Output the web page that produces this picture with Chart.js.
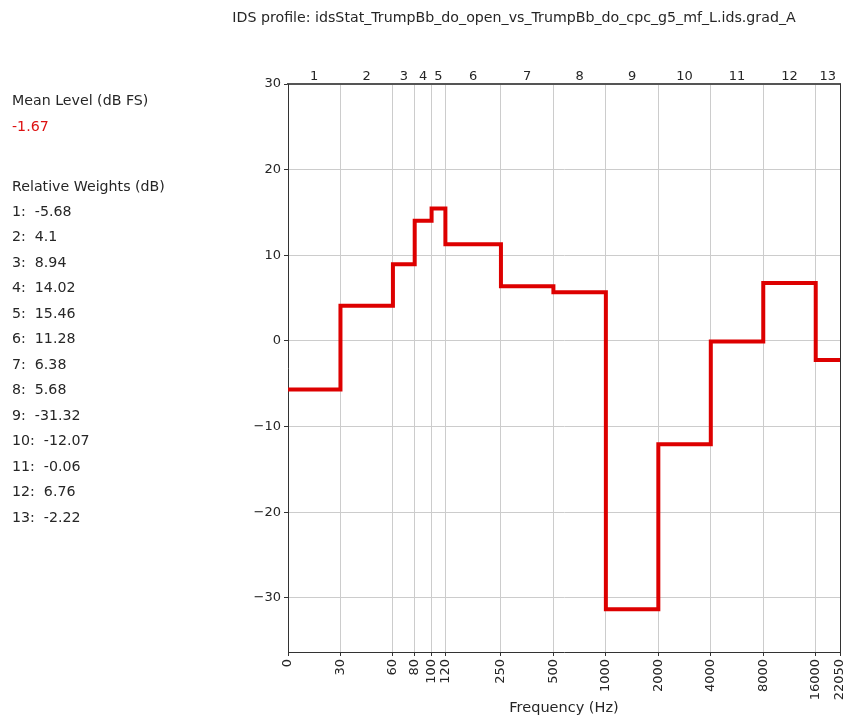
<!DOCTYPE html>
<html>
<head>
<meta charset="utf-8">
<script src="https://cdn.jsdelivr.net/npm/chart.js@4"></script>
<style>
  html, body { margin: 0; padding: 0; background: #fff; }
  #wrap { width: 848px; height: 720px; }
</style>
</head>
<body>
<div id="wrap"><canvas id="myChart" width="848" height="720"></canvas></div>
<script>
// band edges (Hz) and band weights (dB)
let bandEdges = [0, 30, 60, 80, 100, 120, 250, 500, 1000, 2000, 4000, 8000, 16000, 22050];
let edgeLabels = ["0", "30", "60", "80", "100", "120", "250", "500", "1000", "2000", "4000", "8000", "16000", "22050"];
let bandNames = ["1", "2", "3", "4", "5", "6", "7", "8", "9", "10", "11", "12", "13"];
let weights = [-5.68, 4.1, 8.94, 14.02, 15.46, 11.28, 6.38, 5.68, -31.32, -12.07, -0.06, 6.76, -2.22];
let meanLevel = -1.67;
let yTicks = [-30, -20, -10, 0, 10, 20, 30];

let chartTitle = "IDS profile: idsStat_TrumpBb_do_open_vs_TrumpBb_do_cpc_g5_mf_L.ids.grad_A";
let font = "DejaVu Sans";
let textColor = "#262626";

// octave axis: 0 Hz is drawn one octave below 30 Hz
function toOct(f) {
    return f === 0 ? Math.log2(15) : Math.log2(f);
}

let points = [];
for (let i = 0; i < weights.length; i++) {
    points.push({ x: toOct(bandEdges[i]), y: weights[i] });
}
points.push({ x: toOct(bandEdges[bandEdges.length - 1]), y: weights[weights.length - 1] });

let bandCenters = [];
for (let i = 0; i < bandNames.length; i++) {
    bandCenters.push((toOct(bandEdges[i]) + toOct(bandEdges[i + 1])) / 2);
}

function fmt(v) {
    return v < 0 ? "\u2212" + Math.abs(v) : String(v);
}

const extras = {
    id: "extras",
    afterDraw(chart) {
        const ctx = chart.ctx;
        const a = chart.chartArea;
        ctx.save();
        // right spine
        ctx.strokeStyle = "#333";
        ctx.lineWidth = 1;
        ctx.beginPath();
        ctx.moveTo(a.right + 0.5, a.top);
        ctx.lineTo(a.right + 0.5, a.bottom);
        ctx.stroke();

        ctx.fillStyle = textColor;
        ctx.textBaseline = "middle";
        ctx.textAlign = "center";
        ctx.font = "14.2px '" + font + "'";
        ctx.fillText(chartTitle, 514, 18);
        ctx.font = "14.5px '" + font + "'";
        ctx.fillText("Frequency (Hz)", 564, 708);

        ctx.textAlign = "left";
        ctx.font = "14.2px '" + font + "'";
        ctx.fillText("Mean Level (dB FS)", 12, 101);
        ctx.fillStyle = "#dd1111";
        ctx.fillText(String(meanLevel), 12, 127);
        ctx.fillStyle = textColor;
        ctx.fillText("Relative Weights (dB)", 12, 187);
        for (let i = 0; i < weights.length; i++) {
            ctx.fillText(bandNames[i] + ":  " + weights[i], 12, 212 + i * 25.5);
        }
        ctx.restore();
    }
};

new Chart("myChart", {
    type: "line",
    data: {
        datasets: [{
            data: points,
            stepped: "before",
            borderColor: "#dd0000",
            borderWidth: 4,
            pointRadius: 0,
            fill: false
        }]
    },
    options: {
        responsive: false,
        animation: false,
        layout: { padding: { left: 0, top: 0, right: 8, bottom: 0 } },
        plugins: {
            legend: { display: false },
            title: { display: false },
            tooltip: { enabled: false }
        },
        scales: {
            x: {
                type: "linear",
                position: "bottom",
                min: toOct(bandEdges[0]),
                max: toOct(bandEdges[bandEdges.length - 1]),
                afterBuildTicks: s => { s.ticks = bandEdges.map(f => ({ value: toOct(f) })); },
                afterFit: s => { s.height = 68; s.paddingLeft = 0; s.paddingRight = 0; },
                ticks: {
                    autoSkip: false,
                    minRotation: 90,
                    maxRotation: 90,
                    padding: 3,
                    color: textColor,
                    font: { family: font, size: 13 },
                    callback: (v, i) => edgeLabels[i]
                },
                grid: { color: "#cccccc", tickColor: "#333", tickLength: 4, lineWidth: 1 },
                border: { color: "#333", width: 1 }
            },
            top: {
                type: "linear",
                position: "top",
                min: toOct(bandEdges[0]),
                max: toOct(bandEdges[bandEdges.length - 1]),
                afterBuildTicks: s => { s.ticks = bandCenters.map(c => ({ value: c })); },
                afterFit: s => { s.height = 84; s.paddingLeft = 0; s.paddingRight = 0; },
                ticks: {
                    autoSkip: false,
                    maxRotation: 0,
                    padding: 0,
                    color: textColor,
                    font: { family: font, size: 13 },
                    callback: (v, i) => bandNames[i]
                },
                grid: { display: false, drawTicks: false },
                border: { color: "#555", width: 2 }
            },
            y: {
                type: "linear",
                min: -36.32,
                max: 30,
                afterBuildTicks: s => { s.ticks = yTicks.map(v => ({ value: v })); },
                afterFit: s => { s.width = 288; },
                ticks: {
                    padding: 3,
                    color: textColor,
                    font: { family: font, size: 13 },
                    callback: v => fmt(v)
                },
                grid: { color: "#cccccc", tickColor: "#333", tickLength: 4, lineWidth: 1 },
                border: { color: "#333", width: 1 }
            }
        }
    },
    plugins: [extras]
});
</script>
</body>
</html>
